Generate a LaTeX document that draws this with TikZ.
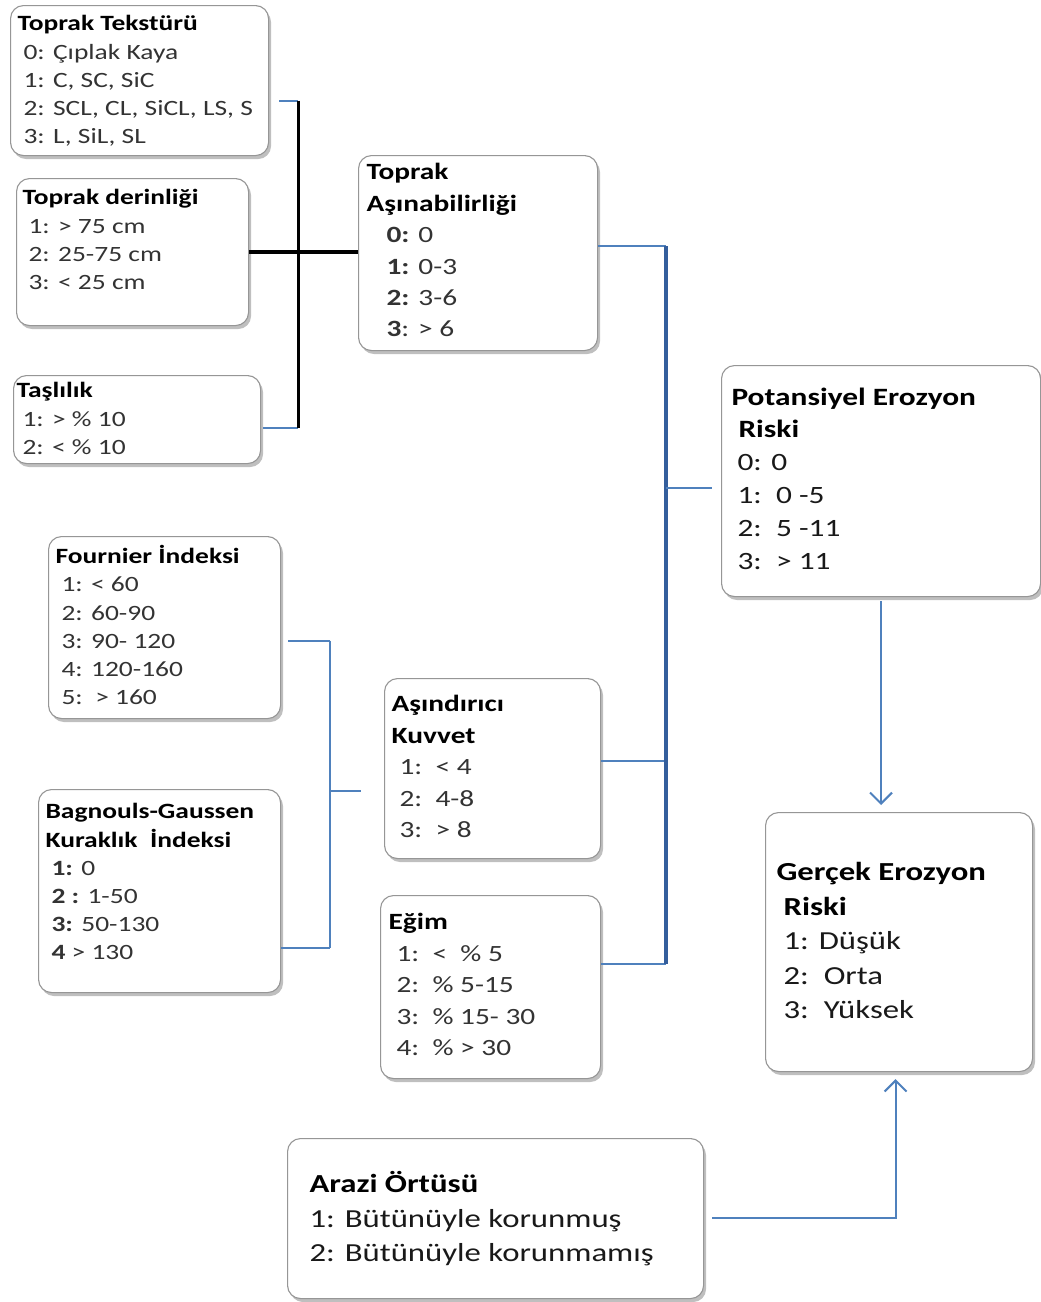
\documentclass[tikz,border=0pt]{standalone}
\usepackage{fontspec}
\setmainfont{Carlito}[FakeStretch=1.26]
\usepackage{tikz}
\usetikzlibrary{arrows.meta,positioning,shadows,calc}

\definecolor{linkblue}{RGB}{79,129,189}
\definecolor{busblue}{RGB}{52,94,156}
\definecolor{edgegray}{RGB}{150,150,150}

\newcommand{\boxtext}[5]{\parbox[c][#2][t]{#1}{\leftskip=#4\relax\vspace*{#3}#5}}
\newcommand{\hd}[1]{\textbf{\color{black}#1}}
\newcommand{\szA}{\fontsize{21.8}{28.2}\selectfont}
\newcommand{\szB}{\fontsize{23.3}{31.4}\selectfont}
\newcommand{\szC}{\fontsize{24.9}{32.9}\selectfont}
\newcommand{\szD}{\fontsize{26}{34.5}\selectfont}

\begin{document}
\begin{tikzpicture}[
  x=1pt, y=-1pt,
  box/.style={draw=edgegray, line width=1.1pt, rounded corners=13pt, fill=white, inner sep=0pt, anchor=north west, text=black!80,
    drop shadow={shadow xshift=2.5pt, shadow yshift=-3.5pt, opacity=0.5}},
  link/.style={draw=linkblue, line width=2pt},
  bus/.style={draw=busblue, line width=3.4pt},
  trunk/.style={draw=black, line width=3pt},
  flow/.style={link, -{Straight Barb[length=11pt,width=22pt,line width=2pt]}}
]
  \fill[white] (0,0) rectangle (1041,1302);
  \useasboundingbox (0,0) rectangle (1041,1302);

  \node[box] (texture) at (10,5) {\boxtext{258pt}{150pt}{10pt}{7pt}{\szA
    \hd{Toprak Tekstürü}\\
    \hspace*{6pt}0: Çıplak Kaya\\
    \hspace*{6pt}1: C, SC, SiC\\
    \hspace*{6pt}2: SCL, CL, SiCL, LS, S\\
    \hspace*{6pt}3: L, SiL, SL}};
  \node[box] (depth) at (16,178) {\boxtext{232pt}{147pt}{11pt}{6pt}{\szA
    \hd{Toprak derinliği}\\
    \hspace*{6pt}1: > 75 cm\\
    \hspace*{6pt}2: 25-75 cm\\
    \hspace*{6pt}3: < 25 cm}};
  \node[box] (stone) at (13,375) {\boxtext{247pt}{88pt}{7pt}{3pt}{\szA
    \hd{Taşlılık}\\
    \hspace*{6pt}1: > \% 10\\
    \hspace*{6pt}2: < \% 10}};
  \node[box] (erodib) at (358,155) {\boxtext{239pt}{195pt}{8pt}{8pt}{\szB
    \hd{Toprak}\\
    \hd{Aşınabilirliği}\\
    \hspace*{20pt}\textbf{0:} 0\\
    \hspace*{20pt}\textbf{1:} 0-3\\
    \hspace*{20pt}\textbf{2:} 3-6\\
    \hspace*{20pt}\textbf{3}: > 6}};
  \node[box, text=black!90] (potrisk) at (721,365) {\boxtext{319pt}{231pt}{22pt}{10pt}{\szC
    \hd{Potansiyel Erozyon}\\
    \hspace*{7pt}\hd{Riski}\\
    \hspace*{6pt}0: 0\\
    \hspace*{6pt}1:\ \ 0 -5\\
    \hspace*{6pt}2:\ \ 5 -11\\
    \hspace*{6pt}3:\ \ > 11}};
  \node[box] (fournier) at (48,536) {\boxtext{232pt}{182pt}{9pt}{7pt}{\szA
    \hd{Fournier İndeksi}\\
    \hspace*{6pt}1: < 60\\
    \hspace*{6pt}2: 60-90\\
    \hspace*{6pt}3: 90- 120\\
    \hspace*{6pt}4: 120-160\\
    \hspace*{6pt}5:\ \ > 160}};
  \node[box] (drought) at (38,789) {\boxtext{242pt}{203pt}{14pt}{7pt}{\szA
    \hd{Bagnouls-Gaussen}\\
    \hd{Kuraklık\ \ İndeksi}\\
    \hspace*{6pt}\textbf{1:} 0\\
    \hspace*{6pt}\textbf{2 :} 1-50\\
    \hspace*{6pt}\textbf{3:} 50-130\\
    \hspace*{6pt}\textbf{4} > 130}};
  \node[box] (force) at (384,678) {\boxtext{216pt}{180pt}{17pt}{7pt}{\szB
    \hd{Aşındırıcı}\\
    \hd{Kuvvet}\\
    \hspace*{8pt}1:\ \ < 4\\
    \hspace*{8pt}2:\ \ 4-8\\
    \hspace*{8pt}3:\ \ > 8}};
  \node[box] (slope) at (380,895) {\boxtext{220pt}{183pt}{18pt}{8pt}{\szB
    \hd{Eğim}\\
    \hspace*{8pt}1:\ \ <\ \ \% 5\\
    \hspace*{8pt}2:\ \ \% 5-15\\
    \hspace*{8pt}3:\ \ \% 15- 30\\
    \hspace*{8pt}4:\ \ \% > 30}};
  \node[box, text=black!90] (realrisk) at (765,812) {\boxtext{267pt}{259pt}{50pt}{11pt}{\szD
    \hd{Gerçek Erozyon}\\
    \hspace*{7pt}\hd{Riski}\\
    \hspace*{7pt}1: Düşük\\
    \hspace*{7pt}2:\ \ Orta\\
    \hspace*{7pt}3:\ \ Yüksek}};
  \node[box, text=black!90] (landcover) at (287,1138) {\boxtext{416pt}{160pt}{33pt}{22pt}{\szD
    \hd{Arazi Örtüsü}\\
    1: Bütünüyle korunmuş\\
    2: Bütünüyle korunmamış}};

  \draw[link] ([xshift=10pt,yshift=-20pt]texture.east) -- ++(19,0) coordinate (soilTop);
  \draw[link] ([xshift=2pt,yshift=-8pt]stone.east) -- ++(35,0) coordinate (soilBot);
  \draw[trunk] (soilTop) -- (soilBot);
  \draw[trunk, line width=3.6pt] (depth.east) -- (depth.east -| erodib.west);

  \draw[link] ([yshift=7pt]erodib.east) -- ++(68,0) coordinate (busTop);
  \draw[link] ([yshift=8pt]force.east) -- ++(65,0);
  \draw[link] ([yshift=23.5pt]slope.east) -- ++(65,0) coordinate (busBot);
  \draw[bus] (busTop) -- (busBot);
  \draw[link] ([yshift=-6.5pt]potrisk.west -| busTop) -- ([xshift=-9pt,yshift=-6.5pt]potrisk.west);

  \draw[link] ([xshift=7pt,yshift=-13pt]fournier.east) -- ++(42,0) coordinate (climTop);
  \draw[link] ([yshift=-56.5pt]drought.east) -- ++(49,0) coordinate (climBot);
  \draw[link] (climTop) -- (climBot);
  \draw[link] ([yshift=-22pt]force.west -| climTop) -- ([xshift=-23pt,yshift=-22pt]force.west);

  \draw[flow] ([yshift=-4pt]potrisk.south) -- ([yshift=7pt]realrisk.north -| potrisk.south);
  \draw[flow] ([xshift=8pt,yshift=1pt]landcover.east) -| ([xshift=-3.5pt,yshift=-7pt]realrisk.south);
\end{tikzpicture}
\end{document}
